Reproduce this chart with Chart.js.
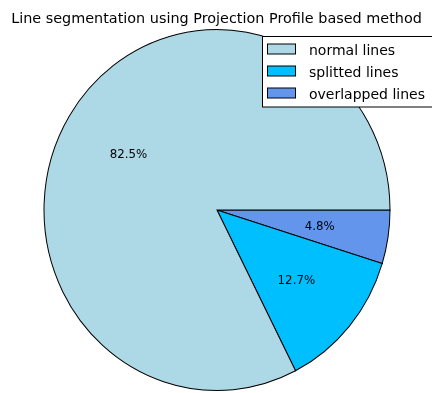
<!DOCTYPE html>
<html>
<head>
<meta charset="utf-8">
<script src="https://cdn.jsdelivr.net/npm/chart.js@4.4.1/dist/chart.umd.min.js"></script>
<style>
  html, body { margin: 0; padding: 0; background: #fff; }
  #wrap { width: 432px; height: 393px; position: relative; overflow: hidden; }
</style>
</head>
<body>
<div id="wrap"><canvas id="c" width="432" height="393"></canvas></div>
<script>
// Share of text lines per segmentation outcome (percent)
const categories = ['normal lines', 'splitted lines', 'overlapped lines'];
const shares = [82.5, 12.7, 4.8];
const sliceColors = ['#ADD8E6', '#00BFFF', '#6495ED'];
const titleText = 'Line segmentation using Projection Profile based method';

// Slices run counter-clockwise from 3 o'clock; Chart.js sweeps clockwise,
// so the series is fed in reverse and started at 90 degrees.
const drawOrder = categories.map((_, i) => categories.length - 1 - i);
const FONT = '"DejaVu Sans", sans-serif';
const Y_STRETCH = 180.5 / 173; // the pie is drawn slightly taller than wide

const ellipsePlugin = {
  id: 'ellipse',
  beforeDatasetsDraw(chart) {
    const arc = chart.getDatasetMeta(0).data[0];
    const ctx = chart.ctx;
    ctx.save();
    ctx.translate(arc.x, arc.y);
    ctx.scale(1, Y_STRETCH);
    ctx.translate(-arc.x, -arc.y);
  },
  afterDatasetsDraw(chart) {
    chart.ctx.restore();
  }
};

const labelsPlugin = {
  id: 'decor',
  afterDraw(chart) {
    const ctx = chart.ctx;
    const meta = chart.getDatasetMeta(0);
    const total = shares.reduce((a, b) => a + b, 0);

    // percentage labels at 0.6 of the radius
    ctx.save();
    ctx.fillStyle = '#000';
    ctx.font = '11.8px ' + FONT;
    ctx.textAlign = 'center';
    ctx.textBaseline = 'alphabetic';
    meta.data.forEach((arc, k) => {
      const mid = (arc.startAngle + arc.endAngle) / 2;
      const r = arc.outerRadius * 0.6;
      const x = arc.x + r * Math.cos(mid);
      const y = arc.y + r * Math.sin(mid) * Y_STRETCH;
      const v = chart.data.datasets[0].data[k];
      ctx.fillText((v / total * 100).toFixed(1) + '%', x, y + 4.2);
    });
    ctx.restore();

    // title
    ctx.save();
    ctx.fillStyle = '#000';
    ctx.font = '14.4px ' + FONT;
    ctx.textAlign = 'center';
    ctx.textBaseline = 'alphabetic';
    ctx.fillText(titleText, 216.5, 22.5);
    ctx.restore();

    // legend box (runs past the right edge of the canvas)
    ctx.save();
    ctx.fillStyle = '#fff';
    ctx.strokeStyle = '#000';
    ctx.lineWidth = 1;
    ctx.fillRect(262.5, 36.5, 190, 70.5);
    ctx.strokeRect(262.5, 36.5, 190, 70.5);
    ctx.font = '14px ' + FONT;
    ctx.textAlign = 'left';
    ctx.textBaseline = 'alphabetic';
    categories.forEach((name, i) => {
      const base = 55 + i * 22;
      ctx.fillStyle = sliceColors[i];
      ctx.fillRect(267.5, base - 11, 28, 10);
      ctx.strokeStyle = '#000';
      ctx.strokeRect(267.5, base - 11, 28, 10);
      ctx.fillStyle = '#000';
      ctx.fillText(name, 309, base);
    });
    ctx.restore();
  }
};

new Chart(document.getElementById('c'), {
  type: 'pie',
  data: {
    labels: drawOrder.map(i => categories[i]),
    datasets: [{
      data: drawOrder.map(i => shares[i]),
      backgroundColor: drawOrder.map(i => sliceColors[i]),
      borderColor: '#000',
      borderWidth: 1,
      borderAlign: 'center'
    }]
  },
  options: {
    responsive: false,
    animation: false,
    devicePixelRatio: 1,
    rotation: 90,
    radius: 173,
    layout: { padding: { left: 2, right: 0, top: 27, bottom: 0 } },
    plugins: {
      legend: { display: false },
      title: { display: false },
      tooltip: { enabled: false }
    },
    elements: { arc: { borderJoinStyle: 'miter' } }
  },
  plugins: [ellipsePlugin, labelsPlugin]
});
</script>
</body>
</html>
